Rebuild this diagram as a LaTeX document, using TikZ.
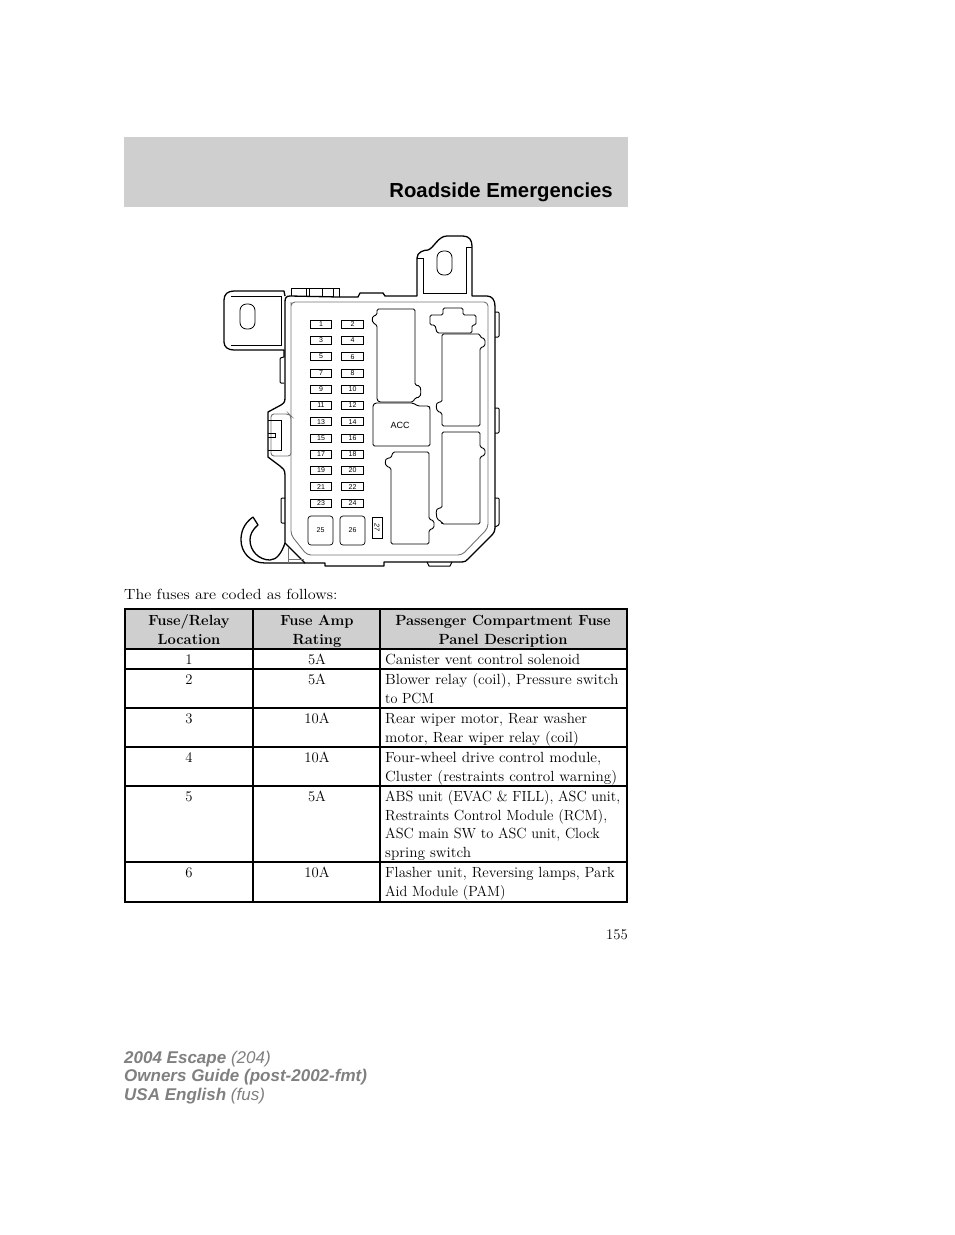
\documentclass[tikz,border=0pt]{standalone}
\usepackage{fontspec}
\newfontfamily\heads{Liberation Sans}
\definecolor{bandgray}{gray}{0.81}
\definecolor{footgray}{gray}{0.5}
\tikzset{
  body/.style={inner sep=0pt,font=\fontsize{14.7}{19}\selectfont},
  cellw/.style={body,anchor=base west},
  cellc/.style={body,anchor=base},
  headcell/.style={cellc,font=\fontsize{14.7}{19}\selectfont\bfseries},
  fusebox/.style={draw,line width=0.8pt,minimum width=21.5pt,minimum height=8pt,inner sep=0pt,font=\heads\fontsize{7}{8}\selectfont},
  bigfuse/.style={draw,line width=0.7pt,rounded corners=3pt,minimum width=25pt,minimum height=29pt,inner sep=0pt,font=\heads\fontsize{7}{8}\selectfont},
  outline/.style={line width=1.3pt,line join=round},
  relay/.style={line width=0.9pt,line join=round,rounded corners=1.5pt},
  inner/.style={line width=0.9pt,color=black!55},
  rule/.style={line width=1.7pt},
  foot/.style={anchor=base west,inner sep=0pt,color=footgray,font=\heads\fontsize{17}{18}\selectfont}
}
\begin{document}
\begin{tikzpicture}[x=1pt,y=-1pt]
\useasboundingbox (0,0) rectangle (954,1235);

% page head
\fill[bandgray] (124,137) rectangle (628,207);
\node[anchor=base east,inner sep=0pt,font=\heads\bfseries\fontsize{20.3}{22}\selectfont] (title) at (613,197) {Roadside Emergencies};

% housing
\draw[outline] (285,302) .. controls (285,298) and (286,296) .. (290,296) -- (339,297) -- (358,297)
  -- (360,293) -- (383,293) -- (385,296) -- (417,296) -- (417,258)
  .. controls (417,252) and (424,250) .. (428,250) .. controls (434,248) and (438,236) .. (447,236)
  -- (463,236) .. controls (469,236) and (472,240) .. (472,246) -- (472,296) -- (487,296)
  .. controls (492,296) and (495,300) .. (495,306) -- (495,527) .. controls (495,531) and (494,533) .. (491,536)
  -- (468,559) .. controls (466,561) and (465,562) .. (462,562) -- (384,562) -- (384,566) -- (325,566)
  -- (325,563) -- (305,563) -- (285,543) -- (285,475)
  .. controls (285,470) and (283,468) .. (280,466) -- (268,457) -- (268,412) -- (281,405)
  .. controls (284,403) and (285,402) .. (285,398) -- (285,302);
\draw[inner,rounded corners=4pt] (291,306) -- (291,535) -- (307,555) -- (462,555) -- (488,528) -- (488,302) -- (291,302) -- cycle;

% top tabs and side bumps
\draw[line width=1pt] (291,296) -- (291,288) -- (339,288) -- (339,297);
\foreach \x in {306,309,322,333} \draw[line width=0.8pt] (\x,288) -- (\x,297);
\draw[line width=1pt] (427,562) -- (429,566) -- (450,566) -- (452,562);
\draw[line width=1pt,rounded corners=1pt] (495,312) -- (499,312) -- (499,337) -- (495,337);
\draw[line width=1pt,rounded corners=1pt] (495,408) -- (499,408) -- (499,433) -- (495,433);
\draw[line width=1pt,rounded corners=1pt] (495,498) -- (499,498) -- (499,525) -- (495,527);
\draw[line width=1pt,rounded corners=1pt] (284,357) -- (280,358) -- (280,383) -- (284,383);
\draw[line width=1pt,rounded corners=1pt] (285,498) -- (281,498) -- (281,523) -- (285,523);

% left bracket
\draw[outline] (285,296) -- (284,291) -- (234,291) .. controls (228,291) and (224,294) .. (224,300)
  -- (224,342) .. controls (224,347) and (228,350) .. (234,350) -- (284,350) -- (284,357);
\draw[line width=0.9pt] (231,296) -- (281,296) -- (281,345) -- (231,345);
\draw[line width=0.8pt,rounded corners=6.5pt] (240,304) rectangle (255,329);

% right bracket
\draw[line width=0.9pt] (417,258) -- (423,258) -- (423,293) -- (466,293) -- (466,247) -- (472,247);
\draw[line width=0.8pt,rounded corners=6.5pt] (437,251) rectangle (452,275);

% latch
\draw[inner,rounded corners=3pt] (271,414) -- (289,414) -- (291,416) -- (291,456) -- (271,456) -- cycle;
\draw[line width=0.9pt] (268,420) -- (281,420) -- (281,450) -- (268,450);
\draw[line width=0.8pt] (268,433) -- (275,433) -- (275,437) -- (268,437);

% hook
\draw[outline] (253,517) .. controls (243,524) and (241,533) .. (241,540)
  .. controls (241,552) and (250,563) .. (265,563) -- (305,563);
\draw[outline] (253,517) -- (258,525) .. controls (252,530) and (250,535) .. (250,540)
  .. controls (250,551) and (259,560) .. (270,560) .. controls (277,560) and (282,552) .. (285,543);
\draw[inner] (288,547) -- (288,563);
\draw[inner] (288,559) -- (304,559);

% relays
\draw[relay] (377,309) -- (415,309) -- (415,385) -- (420,386) -- (421,392) -- (420,397) -- (415,398) -- (413,402) -- (379,402) -- (377,400)
  -- (377,325) -- (373,323) -- (372,319) -- (373,316) -- (377,315) -- cycle;
\draw[relay] (375,403) -- (413,403) -- (418,406) -- (429,406) -- (430,408) -- (430,446) -- (373,446) -- (373,405) -- cycle;
\draw[relay] (393,452) -- (429,452) -- (429,519) -- (434,521) -- (434,528) -- (429,530) -- (429,544) -- (391,544)
  -- (391,468) -- (386,466) -- (385,461) -- (387,458) -- (391,458) -- cycle;
\draw[relay] (442,334) -- (480,334) -- (480,337) -- (485,339) -- (485,346) -- (480,348) -- (480,426) -- (442,426)
  -- (442,413) -- (437,411) -- (436,405) -- (438,402) -- (442,402) -- cycle;
\draw[relay] (442,432) -- (480,432) -- (480,447) -- (485,449) -- (485,455) -- (480,457) -- (480,524) -- (442,524)
  -- (442,522) -- (437,519) -- (436,511) -- (438,508) -- (442,508) -- cycle;
\draw[relay] (443,315) -- (443,308) -- (463,308) -- (463,315) -- (476,315) -- (476,325) -- (472,325) -- (472,333)
  -- (437,333) -- (435,325) -- (430,325) -- (430,315) -- cycle;
\node[inner sep=0pt,font=\heads\fontsize{9}{10}\selectfont] (acc) at (400,425) {ACC};

% fuses
\foreach \n/\y in {1/324,3/340.3,5/356.6,7/373,9/389.2,11/405.5,13/421.8,15/438,17/454.3,19/470.5,21/486.8,23/503}
  \node[fusebox] (fuse\n) at (321,\y) {\n};
\foreach \n/\y in {2/324,4/340.3,6/356.6,8/373,10/389.2,12/405.5,14/421.8,16/438,18/454.3,20/470.5,22/486.8,24/503}
  \node[fusebox] (fuse\n) at (352.5,\y) {\n};
\node[bigfuse] (fuse25) at (320.5,530.5) {25};
\node[bigfuse] (fuse26) at (352.5,530.5) {26};
\node[draw,line width=0.7pt,minimum width=21pt,minimum height=10pt,inner sep=0pt,rotate=-90,font=\heads\itshape\fontsize{7}{8}\selectfont] (fuse27) at (377,527.5) {27};

% table
\node[cellw] (intro) at (124,599) {\scalebox{1.1}[1]{The fuses are coded as follows:}};
\fill[bandgray] (125,609) rectangle (627,649);
\foreach \y in {609,649,669,708,747,786,862,902} \draw[rule] (124.2,\y) -- (627.8,\y);
\foreach \x in {125,253,380,627} \draw[rule] (\x,609) -- (\x,902);

\node[headcell] (hloc) at (189,625) {Fuse/Relay};
\node[headcell] (hloc2) at (189,644) {Location};
\node[headcell] (hamp) at (317,625) {Fuse Amp};
\node[headcell] (hamp2) at (317,644) {Rating};
\node[headcell] (hdesc) at (503,625) {Passenger Compartment Fuse};
\node[headcell] (hdesc2) at (503,644) {Panel Description};

\foreach \y/\n/\a in {664/1/5A,684/2/5A,723/3/10A,762/4/10A,801/5/5A,877/6/10A} {
  \node[cellc] (loc\n) at (189,\y) {\n};
  \node[cellc] (amp\n) at (317,\y) {\a};
}
\foreach \y/\s/\t in {664/1.037/Canister vent control solenoid,
  684/1.05/{Blower relay (coil), Pressure switch},703/0.96/to PCM,
  723/1.02/{Rear wiper motor, Rear washer},742/1.027/{motor, Rear wiper relay (coil)},
  762/1.038/{Four-wheel drive control module,},781/1.036/Cluster (restraints control warning),
  801/0.976/{ABS unit (EVAC \& FILL), ASC unit,},820/1/{Restraints Control Module (RCM),},
  838/0.98/{ASC main SW to ASC unit, Clock},857/1.036/spring switch,
  877/1.013/{Flasher unit, Reversing lamps, Park},896/0.976/Aid Module (PAM)}
  \node[cellw] (desc\y) at (385,\y) {\scalebox{\s}[1]{\t}};

\node[body,anchor=base east] (page) at (628,939) {155};

% page foot
\node[foot] (foot1) at (124,1063) {\textbf{\textit{2004 Escape}} \textit{(204)}};
\node[foot] (foot2) at (124,1081) {\textbf{\textit{Owners Guide (post-2002-fmt)}}};
\node[foot] (foot3) at (124,1100) {\textbf{\textit{USA English}} \textit{(fus)}};
\end{tikzpicture}
\end{document}
